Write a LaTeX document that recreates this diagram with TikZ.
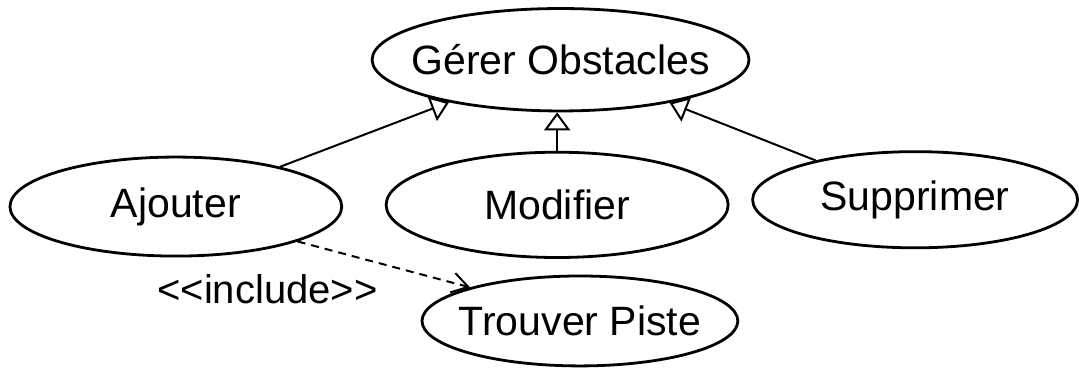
\documentclass[tikz,border=0pt]{standalone}
\usepackage{fontspec}
\setmainfont{Liberation Sans}
\usetikzlibrary{arrows.meta,shapes.geometric}

\begin{document}
\begin{tikzpicture}[
  usecase/.style={draw,ellipse,line width=1.4pt,inner xsep=-6pt,inner ysep=0pt,font=\fontsize{20.5}{24}\selectfont},
  gen/.style={line width=1pt,-{Triangle[open,length=9pt,width=13pt,line width=1pt]}},
  incl/.style={line width=1pt,dash pattern=on 4pt off 3pt,-{Straight Barb[length=8pt,width=10pt,line width=1pt]}}]
  \useasboundingbox (0,0) rectangle (18.96,6.48);
  \node[usecase,inner xsep=-8pt,minimum width=6.62cm,minimum height=1.8cm] (gerer) at (9.85,5.43) {Gérer Obstacles};
  \node[usecase,minimum width=5.83cm,minimum height=1.74cm] (ajouter) at (3.09,2.85) {Ajouter};
  \node[usecase,minimum width=6.01cm,minimum height=1.85cm] (modifier) at (9.79,2.88) {Modifier};
  \node[usecase,minimum width=5.71cm,minimum height=1.69cm] (supprimer) at (16.08,2.97) {Supprimer};
  \node[usecase,minimum width=5.55cm,minimum height=1.58cm] (trouver) at (10.19,0.84) {Trouver Piste};
  \node[font=\fontsize{20}{24}\selectfont] (include) at (4.7,1.39) {<\kern0pt<include>\kern0pt>};
  \draw[gen] (ajouter) -- (gerer);
  \draw[gen] (modifier.north) -- (modifier.north |- gerer.south);
  \draw[gen] (supprimer) -- (gerer);
  \draw[incl] (ajouter.-16) -- (trouver.163);
\end{tikzpicture}
\end{document}
